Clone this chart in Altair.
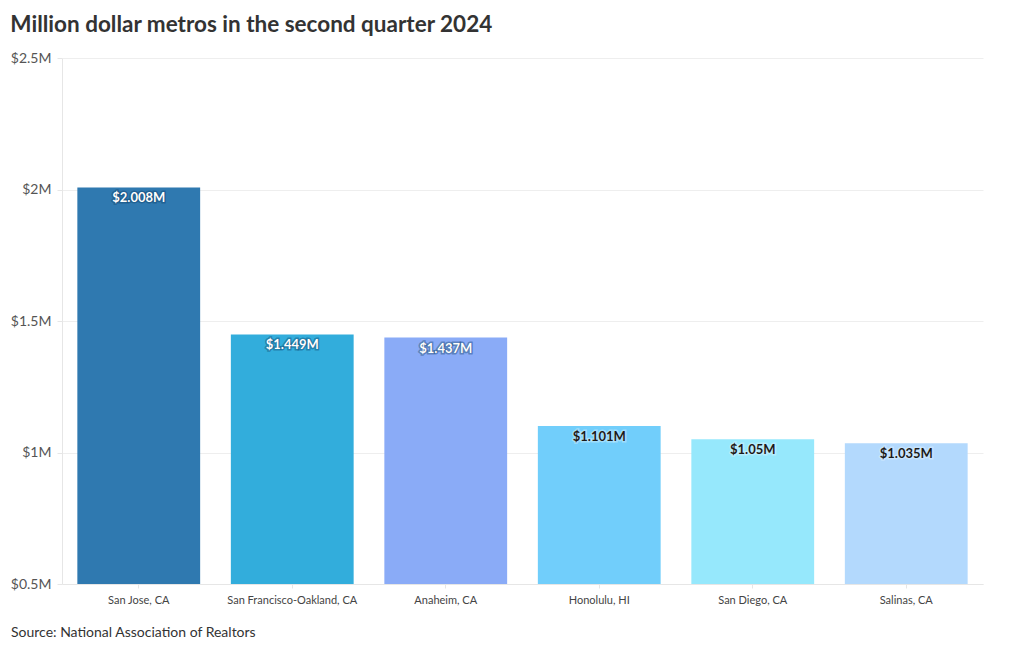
import altair as alt
import pandas as pd

metros = ["San Jose, CA", "San Francisco-Oakland, CA", "Anaheim, CA",
          "Honolulu, HI", "San Diego, CA", "Salinas, CA"]
prices = [2.008, 1.449, 1.437, 1.101, 1.05, 1.035]
labels = ["$2.008M", "$1.449M", "$1.437M", "$1.101M", "$1.05M", "$1.035M"]
bar_colors = ["#2f79b0", "#32addc", "#8aabf7", "#71cefb", "#96e8fc", "#b3d9fd"]
y_ticks = [0.5, 1.0, 1.5, 2.0, 2.5]
source = "Source: National Association of Realtors"

W, H = 921, 526
FONT = "Lato"

df = pd.DataFrame({"metro": metros, "price": prices, "label": labels})

x_enc = alt.X("metro:N", sort=metros, title=None,
              scale=alt.Scale(paddingInner=0.2, paddingOuter=0.1),
              axis=alt.Axis(labelAngle=0, labelFontSize=11, labelColor="#444",
                            labelFont=FONT, labelPadding=6, tickSize=4,
                            tickColor="#e6e6e6", domainColor="#e6e6e6", grid=False))
y_enc = alt.Y("price:Q", title=None,
              scale=alt.Scale(domain=[0.5, 2.5], zero=False, nice=False),
              axis=alt.Axis(values=y_ticks, labelExpr="datum.value == 1 ? '$1M' : datum.value == 2 ? '$2M' : '$' + datum.value + 'M'",
                            labelFontSize=14, labelColor="#555", labelFont=FONT,
                            tickSize=5, tickColor="#e6e6e6", domainColor="#e6e6e6",
                            gridColor="#eeeeee", labelPadding=6))

base = alt.Chart(df)

bars = base.mark_bar().encode(
    x=x_enc,
    y=y_enc,
    y2=alt.Y2(datum=0.5),
    color=alt.Color("metro:N", sort=metros, legend=None,
                    scale=alt.Scale(domain=metros, range=bar_colors)),
)

is_dark = alt.datum.price > 1.2

halo = base.mark_text(baseline="top", dy=5, fontSize=13, fontWeight="bold", font=FONT,
                      strokeWidth=3, strokeOpacity=0.4).encode(
    x=alt.X("metro:N", sort=metros),
    y="price:Q",
    text="label:N",
    stroke=alt.condition(is_dark, alt.value("#0b3d66"), alt.value("#e8f6ff")),
    fill=alt.condition(is_dark, alt.value("#0b3d66"), alt.value("#e8f6ff")),
)

text = base.mark_text(baseline="top", dy=5, fontSize=13, fontWeight="bold", font=FONT).encode(
    x=alt.X("metro:N", sort=metros),
    y="price:Q",
    text="label:N",
    color=alt.condition(is_dark, alt.value("#ffffff"), alt.value("#1a1a1a")),
)

src = alt.Chart(pd.DataFrame({"t": [source]})).mark_text(
    align="left", baseline="middle", fontSize=14, font=FONT, color="#333"
).encode(x=alt.value(-51), y=alt.value(H + 49), text="t:N")

chart = alt.layer(bars, halo, text, src).properties(
    width=W, height=H,
    padding={"left": 2, "top": 5, "right": 5, "bottom": 5},
    title=alt.TitleParams("Million dollar metros in the second quarter 2024",
                          anchor="start", frame="bounds", fontSize=22.5,
                          font=FONT, fontWeight="bold", color="#333", offset=15),
).configure(background="white").configure_view(strokeWidth=0, stroke="transparent")

chart.save("out.html", embed_options={"renderer": "svg", "actions": False})
